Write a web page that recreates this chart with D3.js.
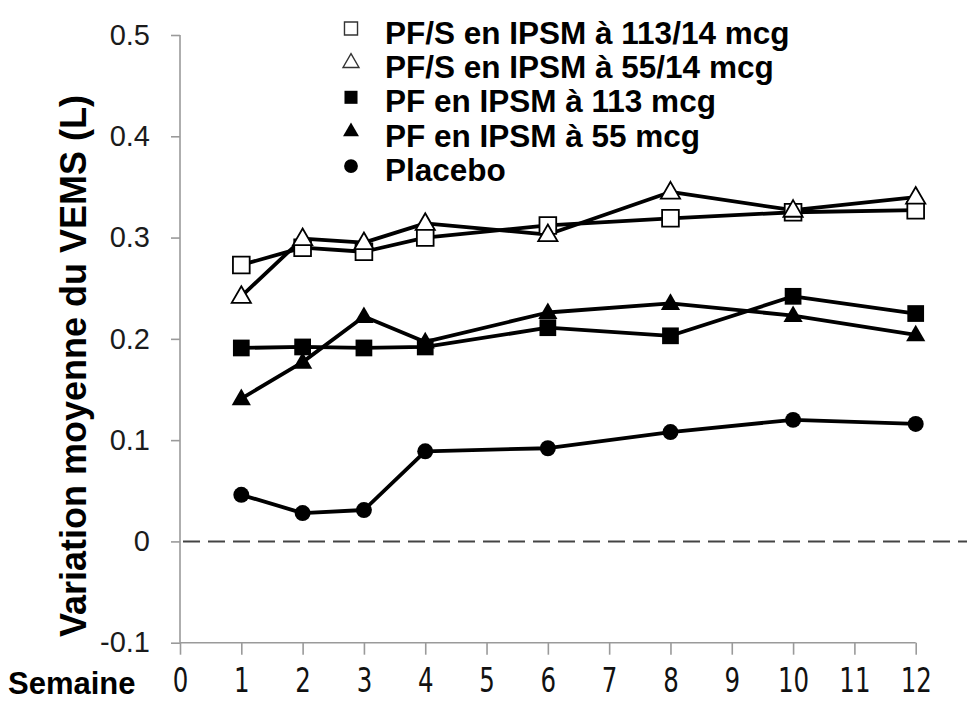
<!DOCTYPE html>
<html>
<head>
<meta charset="utf-8">
<script src="https://cdn.jsdelivr.net/npm/d3@7"></script>
<style>
  html, body { margin: 0; padding: 0; background: #fff; }
  svg { display: block; }
</style>
</head>
<body>
<svg id="chart" width="967" height="707"></svg>
<script>
// ---- data ----
const weeks = [1, 2, 3, 4, 6, 8, 10, 12];
const seriesNames = [
  "PF/S en IPSM à 113/14 mcg",
  "PF/S en IPSM à 55/14 mcg",
  "PF en IPSM à 113 mcg",
  "PF en IPSM à 55 mcg",
  "Placebo"
];
const pfs113 = [0.273, 0.290, 0.286, 0.300, 0.312, 0.319, 0.325, 0.327];
const pfs55  = [0.242, 0.299, 0.295, 0.314, 0.303, 0.345, 0.327, 0.340];
const pf113  = [0.191, 0.192, 0.191, 0.192, 0.211, 0.203, 0.242, 0.225];
const pf55   = [0.141, 0.177, 0.222, 0.197, 0.226, 0.235, 0.223, 0.204];
const placebo = [0.046, 0.028, 0.031, 0.089, 0.092, 0.108, 0.120, 0.116];
const xTicks = [0, 1, 2, 3, 4, 5, 6, 7, 8, 9, 10, 11, 12];
const yTicks = [-0.1, 0, 0.1, 0.2, 0.3, 0.4, 0.5];
const yTitle = "Variation moyenne du VEMS (L)";
const xTitle = "Semaine";

// ---- layout ----
const svg = d3.select("#chart");
const x = d3.scaleLinear().domain([0, 12]).range([180, 915.7]);
const y = d3.scaleLinear().domain([-0.1, 0.5]).range([642.7, 35]);
const axisColor = "#9a9a9a";

// y axis
const yAxis = svg.append("g").attr("transform", "translate(180,0)")
  .call(d3.axisLeft(y).tickValues(yTicks).tickSize(9).tickPadding(21)
    .tickFormat(d => d === 0 ? "0" : d.toFixed(1)));
yAxis.select(".domain").attr("stroke", axisColor).attr("stroke-width", 1.6)
  .attr("d", `M0,${y(0.5)}V${y(-0.1)}`);
yAxis.selectAll(".tick line").attr("stroke", axisColor).attr("stroke-width", 1.6);
yAxis.selectAll(".tick text")
  .attr("font-family", "'Liberation Sans', Arial, sans-serif")
  .attr("font-size", 29).attr("fill", "#1b1b1b");

// x axis
const xAxis = svg.append("g").attr("transform", `translate(0,${y(-0.1)})`)
  .call(d3.axisBottom(x).tickValues(xTicks).tickSize(12).tickPadding(13)
    .tickFormat(d3.format("d")));
xAxis.select(".domain").attr("stroke", axisColor).attr("stroke-width", 1.6)
  .attr("d", `M${x(0)},0H${x(12)}`);
xAxis.selectAll(".tick line").attr("stroke", axisColor).attr("stroke-width", 1.6);
xAxis.selectAll(".tick text")
  .attr("font-family", "'DejaVu Sans', sans-serif")
  .style("font-size", "34px").attr("fill", "#111")
  .attr("transform", "scale(0.72,1)");

// zero dashed line
svg.append("line")
  .attr("x1", x(0) + 3).attr("x2", 967)
  .attr("y1", y(0)).attr("y2", y(0))
  .attr("stroke", "#444").attr("stroke-width", 2)
  .attr("stroke-dasharray", "17 8");

// titles
svg.append("text")
  .attr("x", 8).attr("y", 694)
  .attr("font-family", "'Liberation Sans', Arial, sans-serif")
  .attr("font-weight", "bold").attr("font-size", 31).attr("fill", "#000")
  .text(xTitle);
svg.append("text")
  .attr("transform", `translate(86,${(92 + 640) / 2}) rotate(-90)`)
  .attr("text-anchor", "middle")
  .attr("font-family", "'Liberation Sans', Arial, sans-serif")
  .attr("font-weight", "bold").attr("font-size", 36).attr("fill", "#000")
  .text(yTitle);

// ---- series ----
const allSeries = [
  { name: seriesNames[4], values: placebo, shape: "circle", fill: "#000" },
  { name: seriesNames[3], values: pf55, shape: "triangle", fill: "#000" },
  { name: seriesNames[2], values: pf113, shape: "square", fill: "#000" },
  { name: seriesNames[0], values: pfs113, shape: "square", fill: "#fff" },
  { name: seriesNames[1], values: pfs55, shape: "triangle", fill: "#fff" }
];

const line = d3.line().x(d => x(d[0])).y(d => y(d[1]));
allSeries.forEach(s => {
  svg.append("path")
    .datum(weeks.map((w, i) => [w, s.values[i]]))
    .attr("d", line).attr("fill", "none")
    .attr("stroke", "#000").attr("stroke-width", 3.8)
    .attr("stroke-linejoin", "round");
});

function symbolPath(shape, size) {
  const type = shape === "circle" ? d3.symbolCircle
    : shape === "triangle" ? d3.symbolTriangle : d3.symbolSquare;
  return d3.symbol().type(type).size(size)();
}
const markerSize = { circle: 200, triangle: 160, square: 280 };

allSeries.forEach(s => {
  svg.append("g").selectAll("path")
    .data(weeks.map((w, i) => [w, s.values[i]]))
    .join("path")
    .attr("transform", d => `translate(${x(d[0])},${y(d[1]) + (s.shape === "triangle" ? 1 : 0)})`)
    .attr("d", symbolPath(s.shape, markerSize[s.shape]))
    .attr("fill", s.fill)
    .attr("stroke", s.fill === "#fff" ? "#000" : "none")
    .attr("stroke-width", s.fill === "#fff" ? 1.8 : 0);
});

// ---- legend ----
const legendItems = [
  { name: seriesNames[0], shape: "square", fill: "#fff" },
  { name: seriesNames[1], shape: "triangle", fill: "#fff" },
  { name: seriesNames[2], shape: "square", fill: "#000" },
  { name: seriesNames[3], shape: "triangle", fill: "#000" },
  { name: seriesNames[4], shape: "circle", fill: "#000" }
];
const legendSize = { circle: 150, triangle: 110, square: 170 };
const lg = svg.append("g");
legendItems.forEach((it, i) => {
  const cy = 32.5 + i * 34.4;
  lg.append("path")
    .attr("transform", `translate(351,${cy - 4})`)
    .attr("d", symbolPath(it.shape, legendSize[it.shape]))
    .attr("fill", it.fill)
    .attr("stroke", it.fill === "#fff" ? "#333" : "none")
    .attr("stroke-width", 1.4);
  lg.append("text")
    .attr("x", 385).attr("y", cy + 11)
    .attr("font-family", "'Liberation Sans', Arial, sans-serif")
    .attr("font-weight", "bold").attr("font-size", 31.5).attr("fill", "#000")
    .text(it.name);
});
</script>
</body>
</html>
